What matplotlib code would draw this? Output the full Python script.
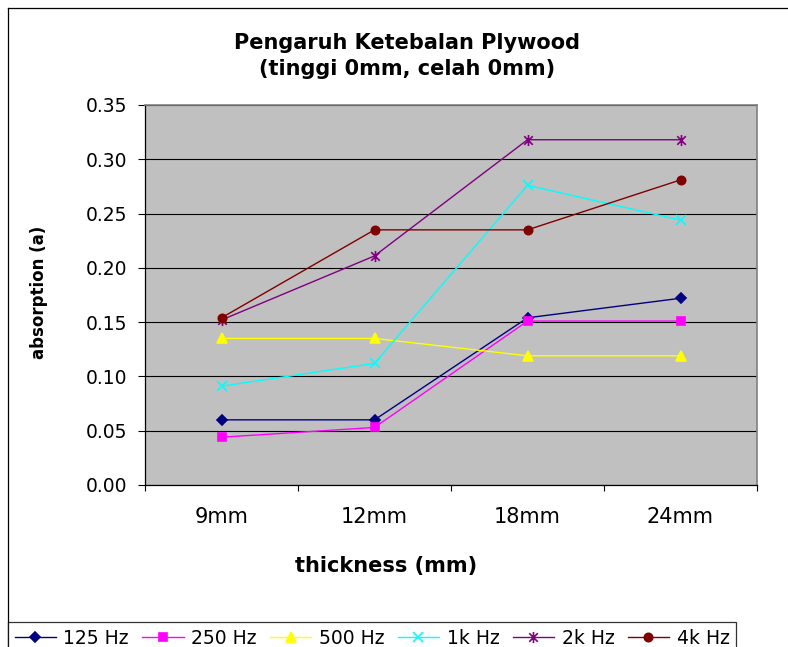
import numpy as np
import matplotlib
matplotlib.use("Agg")
import matplotlib.pyplot as plt
from matplotlib.path import Path
from matplotlib.lines import Line2D

# absorption coefficient per plywood thickness, one list per frequency band
thickness = ["9mm", "12mm", "18mm", "24mm"]
bands = ["125 Hz", "250 Hz", "500 Hz", "1k Hz", "2k Hz", "4k Hz"]
a_125 = [0.060, 0.060, 0.154, 0.172]
a_250 = [0.044, 0.053, 0.151, 0.151]
a_500 = [0.135, 0.135, 0.119, 0.119]
a_1k = [0.091, 0.112, 0.276, 0.244]
a_2k = [0.152, 0.211, 0.318, 0.318]
a_4k = [0.154, 0.235, 0.235, 0.281]
yticks = [0.00, 0.05, 0.10, 0.15, 0.20, 0.25, 0.30, 0.35]

W, H = 788, 647
plt.rcParams["font.family"] = ["DejaVu Sans"]

# excel-style star: an x with a vertical bar through it
star = Path([(-1, -1), (1, 1), (-1, 1), (1, -1), (0, -1.3), (0, 1.3)],
            [Path.MOVETO, Path.LINETO, Path.MOVETO, Path.LINETO,
             Path.MOVETO, Path.LINETO])

styles = [
    ("#000080", "D", 5.5, True),
    ("#FF00FF", "s", 6, True),
    ("#FFFF00", "^", 7, True),
    ("#00FFFF", "x", 7, False),
    ("#800080", star, 8, False),
    ("#800000", "o", 6, True),
]
series = [a_125, a_250, a_500, a_1k, a_2k, a_4k]

fig = plt.figure(figsize=(W / 100, H / 100), dpi=100)
ax = fig.add_axes([145 / W, 1 - 485 / H, 612 / W, 380 / H])
ax.set_facecolor("#C0C0C0")

x = np.arange(len(thickness))
handles = []
for vals, label, (col, mk, ms, filled) in zip(series, bands, styles):
    ln, = ax.plot(x, vals, color=col, lw=1.0, marker=mk, ms=ms,
                  mfc=col if filled else "none", mec=col, mew=1.2,
                  label=label, zorder=3)
    handles.append(ln)

ax.set_xlim(-0.5, len(thickness) - 0.5)
ax.set_ylim(0, 0.35)

# category boundaries get the tick marks, labels sit at the centres
ax.set_xticks(np.arange(-0.5, len(thickness)))
ax.set_xticklabels([])
ax.set_xticks(x, minor=True)
ax.set_xticklabels(thickness, minor=True, fontsize=15)
ax.tick_params(axis="x", which="major", direction="out", length=4.5, width=0.8, color="k")
ax.tick_params(axis="x", which="minor", length=0, pad=16)

ax.set_yticks(yticks)
ax.set_yticklabels([f"{v:.2f}" for v in yticks], fontsize=13.5)
ax.tick_params(axis="y", direction="out", length=5, width=0.8, pad=8, color="k")

ax.yaxis.grid(True, color="black", lw=0.8)
ax.set_axisbelow(True)
for side in ("left", "bottom"):
    ax.spines[side].set_color("black")
    ax.spines[side].set_linewidth(0.9)
for side in ("top", "right"):
    ax.spines[side].set_color("#808080")
    ax.spines[side].set_linewidth(1.2)

ax.set_xlabel("thickness (mm)", fontsize=15, fontweight="bold")
ax.xaxis.set_label_coords((386 - 145) / 612, (485 - 556) / 380)
ax.set_ylabel("absorption (a)", fontsize=12, fontweight="bold")
ax.yaxis.set_label_coords((48 - 145) / 612, (485 - 292) / 380)

fig.text(407 / W, 1 - 56 / H, "Pengaruh Ketebalan Plywood\n(tinggi 0mm, celah 0mm)",
         ha="center", va="center", fontsize=15, fontweight="bold", linespacing=1.35)

# chart area border (runs off the right and bottom edges)
fig.add_artist(Line2D([8 / W, 1], [1 - 8 / H] * 2, transform=fig.transFigure, color="k", lw=0.9))
fig.add_artist(Line2D([8 / W] * 2, [1 - 8 / H, 0], transform=fig.transFigure, color="k", lw=0.9))

leg = fig.legend(handles, bands, loc="upper left", ncol=6, mode="expand",
                 bbox_to_anchor=(8 / W, 1 - 622 / H, 728 / W, 0),
                 fontsize=13.5, frameon=True, fancybox=False, edgecolor="black",
                 borderaxespad=0, handlelength=2.2, handletextpad=0.4,
                 borderpad=0.35, columnspacing=0.8)
leg.get_frame().set_linewidth(0.9)

fig.savefig("out.png", dpi=100, facecolor="white")
